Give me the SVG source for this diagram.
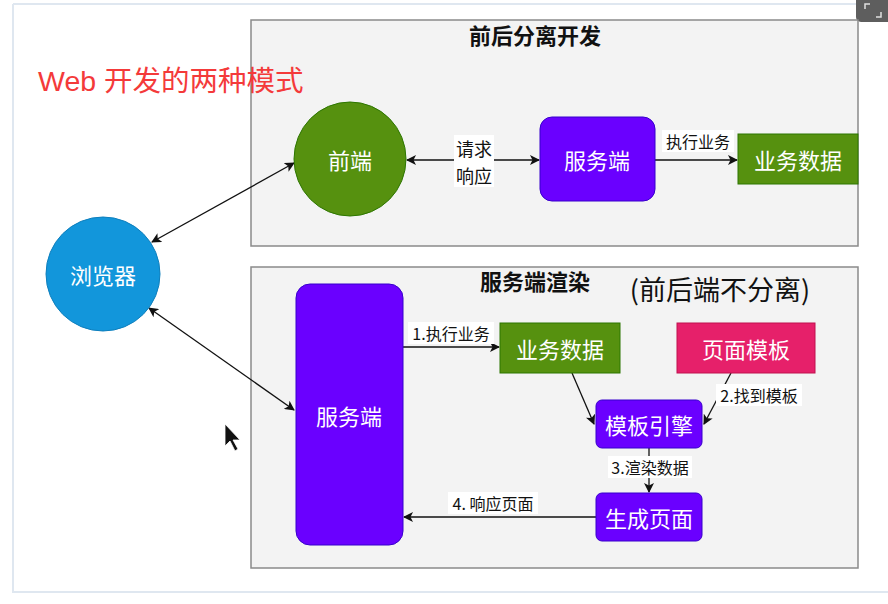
<svg xmlns="http://www.w3.org/2000/svg" width="888" height="604" viewBox="0 0 888 604">
<defs>
<style>
.panel{fill:#f3f3f3;stroke:#8a8a8a;stroke-width:1.5}
.title{font-family:"Noto Sans CJK SC",sans-serif;font-weight:bold;font-size:22px;fill:#111;text-anchor:middle}
.nt{font-family:"Noto Sans CJK SC",sans-serif;font-size:22px;fill:#fff;text-anchor:middle;dominant-baseline:central}
.lbl{font-family:"Noto Sans CJK SC",sans-serif;font-size:16px;fill:#111;text-anchor:middle;dominant-baseline:central}
.lbg{fill:#fff}
.edge{stroke:#111;stroke-width:1.3;fill:none}
.violet{fill:#6a00ff;stroke:#3700cc;stroke-width:1}
.green{fill:#56910f;stroke:#2d7600;stroke-width:1}
</style>
<marker id="ah" viewBox="0 0 10 10" refX="9" refY="5" markerWidth="10" markerHeight="10" markerUnits="userSpaceOnUse" orient="auto-start-reverse">
<path d="M0,0 L10,5 L0,10 L2.5,5 z" fill="#111"/>
</marker>
</defs>
<rect width="888" height="604" fill="#fff"/>
<path d="M13,4 H888 M13,4 V592 H888" fill="none" stroke="#dfe7f0" stroke-width="2"/>
<g id="corner-icon">
<rect x="856" y="-6" width="36" height="28" rx="5" fill="#5e5e5e"/>
<path d="M865,9 v-5 h5 M881,12 v5 h-5" stroke="#e0e0e0" stroke-width="1.5" fill="none"/>
</g>

<g id="panel-top">
<rect class="panel" x="251" y="20" width="607" height="226"/>
<text class="title" x="535" y="44">前后分离开发</text>
</g>
<g id="panel-bottom">
<rect class="panel" x="251" y="267" width="607" height="301"/>
<text class="title" x="535" y="290">服务端渲染</text>
<text x="720" y="300" font-family="Noto Sans CJK SC,sans-serif" font-size="27" fill="#111" text-anchor="middle">(前后端不分离)</text>
</g>
<text x="38" y="91" font-family="Liberation Sans,Noto Sans CJK SC,sans-serif" font-size="28.5" fill="#f43a3a">Web 开发的两种模式</text>

<g id="connectors">
<line class="edge" x1="152" y1="242" x2="294" y2="163" marker-start="url(#ah)" marker-end="url(#ah)"/>
<line class="edge" x1="149" y1="308" x2="294" y2="410" marker-start="url(#ah)" marker-end="url(#ah)"/>
<line class="edge" x1="407" y1="160" x2="539" y2="160" marker-start="url(#ah)" marker-end="url(#ah)"/>
<line class="edge" x1="655" y1="160" x2="737" y2="160" marker-end="url(#ah)"/>
<line class="edge" x1="403" y1="347" x2="499" y2="347" marker-end="url(#ah)"/>
<line class="edge" x1="572" y1="373" x2="594" y2="424" marker-end="url(#ah)"/>
<line class="edge" x1="731" y1="373" x2="704" y2="424" marker-end="url(#ah)"/>
<line class="edge" x1="649" y1="448" x2="649" y2="492" marker-end="url(#ah)"/>
<line class="edge" x1="596" y1="517" x2="404" y2="517" marker-end="url(#ah)"/>
<rect class="lbg" x="454" y="135" width="40" height="52"/>
<text class="lbl" x="474" y="148" style="font-size:18px">请求</text>
<text class="lbl" x="474" y="175" style="font-size:18px">响应</text>
<rect class="lbg" x="662" y="130" width="72" height="22"/>
<text class="lbl" x="698" y="141">执行业务</text>
<rect class="lbg" x="408" y="322" width="86" height="22"/>
<text class="lbl" x="451" y="333">1.执行业务</text>
<rect class="lbg" x="716" y="384" width="86" height="22"/>
<text class="lbl" x="759" y="395">2.找到模板</text>
<rect class="lbg" x="608" y="456" width="84" height="22"/>
<text class="lbl" x="650" y="467">3.渲染数据</text>
<rect class="lbg" x="448" y="492" width="90" height="22"/>
<text class="lbl" x="493" y="503">4. 响应页面</text>
</g>

<g id="browser">
<circle cx="103" cy="274" r="57" fill="#1296db" stroke="#0e7fbd" stroke-width="1"/>
<text class="nt" x="103" y="274">浏览器</text>
</g>
<g id="frontend">
<ellipse cx="350" cy="159" rx="56" ry="57" class="green"/>
<text class="nt" x="350" y="159">前端</text>
</g>
<g id="server-top">
<rect class="violet" x="540" y="117" width="115" height="84" rx="12"/>
<text class="nt" x="597" y="159">服务端</text>
</g>
<g id="data-top">
<rect class="green" x="738" y="134" width="120" height="50"/>
<text class="nt" x="798" y="159">业务数据</text>
</g>
<g id="server-bottom">
<rect class="violet" x="296" y="284" width="107" height="261" rx="14"/>
<text class="nt" x="349" y="415">服务端</text>
</g>
<g id="data-bottom">
<rect class="green" x="500" y="323" width="120" height="50"/>
<text class="nt" x="560" y="348">业务数据</text>
</g>
<g id="page-template">
<rect x="677" y="323" width="138" height="50" fill="#e6206a" stroke="#c0104f" stroke-width="1"/>
<text class="nt" x="746" y="348">页面模板</text>
</g>
<g id="template-engine">
<rect class="violet" x="596" y="400" width="106" height="48" rx="6"/>
<text class="nt" x="649" y="424">模板引擎</text>
</g>
<g id="gen-page">
<rect class="violet" x="596" y="493" width="106" height="48" rx="6"/>
<text class="nt" x="649" y="517">生成页面</text>
</g>
<g id="cursor">
<path d="M225,424 L225,446 L230,441 L235,451 L238,449 L233,440 L240,440 Z" fill="#111" stroke="#fff" stroke-width="0.8"/>
</g>
</svg>
